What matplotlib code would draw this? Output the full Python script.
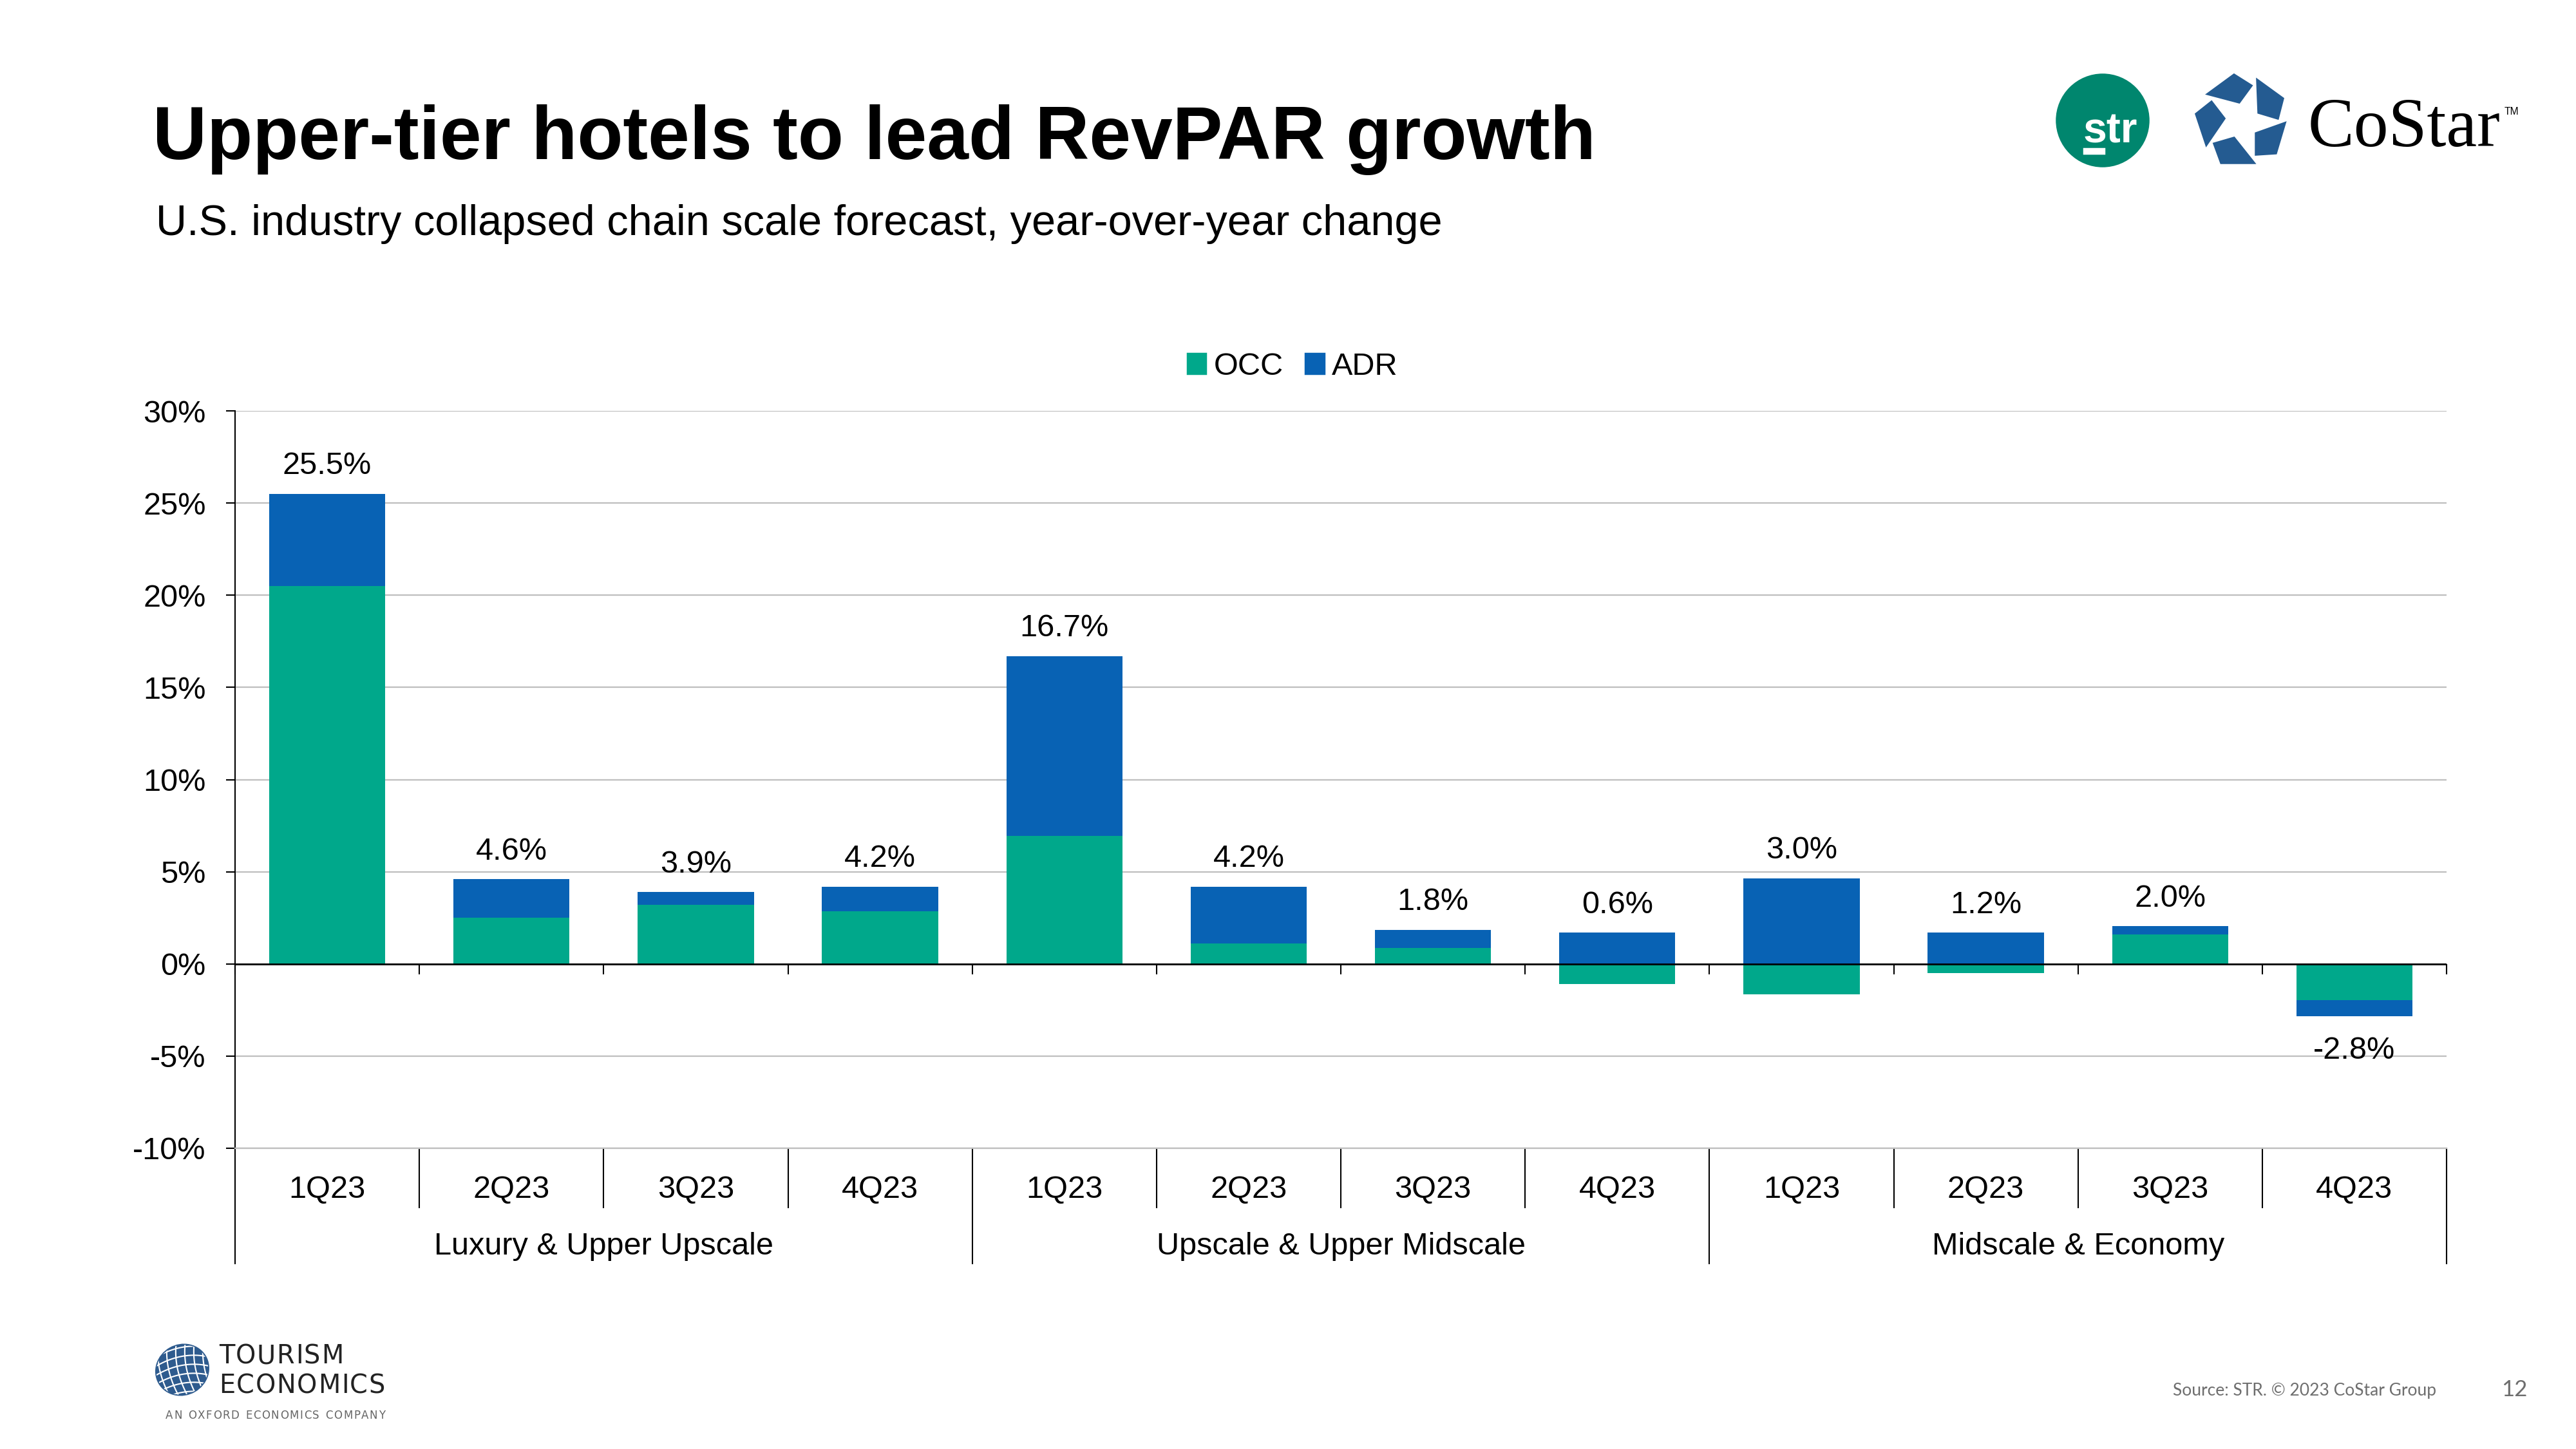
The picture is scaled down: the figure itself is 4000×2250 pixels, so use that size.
import numpy as np
import matplotlib.pyplot as plt
import matplotlib.transforms as mtrans
from matplotlib.patches import Patch, Polygon, Ellipse, Circle, Rectangle

plt.rcParams['font.family'] = ['Liberation Sans', 'DejaVu Sans']

# data (% year-over-year)
quarters = ['1Q23', '2Q23', '3Q23', '4Q23'] * 3
groups = ['Luxury & Upper Upscale', 'Upscale & Upper Midscale', 'Midscale & Economy']
occ = np.array([20.5, 2.5, 3.2, 2.85, 6.95, 1.1, 0.85, -1.1, -1.65, -0.5, 1.6, -1.95])
adr = np.array([5.0, 2.1, 0.7, 1.35, 9.75, 3.1, 1.0, 1.7, 4.65, 1.7, 0.45, -0.9])
revpar = [25.5, 4.6, 3.9, 4.2, 16.7, 4.2, 1.8, 0.6, 3.0, 1.2, 2.0, -2.8]

OCC_C = '#00A88B'
ADR_C = '#0862B4'

fig = plt.figure(figsize=(16, 9), dpi=250)
ax = fig.add_axes([365 / 4000, 1 - 1783 / 2250, (3799 - 365) / 4000, (1783 - 638) / 2250])

x = np.arange(len(quarters))
# excel-style stacking: positives and negatives stack separately
adr_bottom = np.where(np.sign(adr) == np.sign(occ), occ, 0)
ax.bar(x, occ, 0.63, color=OCC_C, zorder=2)
ax.bar(x, adr, 0.63, bottom=adr_bottom, color=ADR_C, zorder=2)

ax.set_xlim(-0.5, 11.5)
ax.set_ylim(-10, 30)
ax.set_yticks(np.arange(-10, 31, 5))
ax.yaxis.set_major_formatter(lambda v, p: f'{v:.0f}%')
ax.grid(axis='y', color='#BFBFBF', lw=0.65, zorder=0)
ax.set_axisbelow(True)
ax.axhline(0, color='black', lw=0.8, zorder=3)
for s in ['top', 'right']:
    ax.spines[s].set_visible(False)
ax.spines['bottom'].set_color('#BFBFBF')
ax.spines['bottom'].set_linewidth(0.65)
ax.spines['left'].set_linewidth(0.6)
ax.tick_params(axis='y', direction='out', length=4, width=0.6, pad=9, labelsize=14)
ax.tick_params(axis='x', bottom=False, labelbottom=False)

# data labels
pos_top = np.where(occ > 0, occ, 0) + np.where(adr > 0, adr, 0)
neg_bot = np.where(occ < 0, occ, 0) + np.where(adr < 0, adr, 0)
for i, v in enumerate(revpar):
    if v >= 0:
        ax.annotate(f'{v:.1f}%', (i, pos_top[i]), xytext=(0, 12.4), textcoords='offset points',
                    ha='center', va='center', fontsize=14)
    else:
        ax.annotate(f'{v:.1f}%', (i, neg_bot[i]), xytext=(0, -15.3), textcoords='offset points',
                    ha='center', va='center', fontsize=14)

# category axis: ticks on zero line, two-level labels below
bounds = np.arange(-0.5, 12, 1.0)
ax.vlines(bounds, 0, -0.56, color='black', lw=0.6, zorder=3, clip_on=False)
trans = mtrans.blended_transform_factory(ax.transData, ax.transAxes)
for b in bounds:
    depth = -0.156 if (b + 0.5) % 4 == 0 else -0.080
    ax.plot([b, b], [0, depth], transform=trans, color='black', lw=0.6, clip_on=False)
for i, q in enumerate(quarters):
    ax.text(i, -0.056, q, transform=trans, ha='center', va='center', fontsize=14)
for g, name in enumerate(groups):
    ax.text(g * 4 + 1.5, -0.1335, name, transform=trans, ha='center', va='center', fontsize=14)

handles = [Patch(color=OCC_C, label='OCC'), Patch(color=ADR_C, label='ADR')]
fig.legend(handles=handles, loc='center', bbox_to_anchor=(0.5018, 0.747), ncol=2, frameon=False,
           fontsize=14, handlelength=0.58, handleheight=0.58, handletextpad=0.25, columnspacing=0.72)

# page decorations in pixel coordinates
deco = fig.add_axes([0, 0, 1, 1], zorder=-1)
deco.set_xlim(0, 4000)
deco.set_ylim(2250, 0)
deco.axis('off')

deco.text(237, 247, 'Upper-tier hotels to lead RevPAR growth', fontsize=33.5, weight='bold', va='baseline')
deco.text(242, 365, 'U.S. industry collapsed chain scale forecast, year-over-year change',
          fontsize=19.2, va='baseline')

# str logo
deco.add_patch(Circle((3265, 187), 71, color='#00866E'))
deco.text(3277, 222, 'str', color='white', fontsize=19, weight='bold', ha='center', va='baseline')
deco.add_patch(Rectangle((3236, 231), 31, 7, color='white'))

# CoStar logo
star = [
    [(3428, 146), (3469, 116), (3496, 133), (3477, 159)],
    [(3505, 124), (3545, 153), (3537, 184), (3507, 175)],
    [(3548, 191), (3534, 238), (3503, 240), (3503, 207)],
    [(3438, 223), (3469, 214), (3500, 253), (3449, 253)],
    [(3410, 177), (3434, 158), (3454, 184), (3426, 225)],
]
for pts in star:
    deco.add_patch(Polygon(pts, closed=True, color='#245B91'))
deco.text(3584, 227, 'CoStar', fontsize=31, family=['Liberation Serif', 'DejaVu Serif'], va='baseline')
deco.text(3889, 178, 'TM', fontsize=4.5, va='baseline')

# Tourism Economics logo
globe = Ellipse((283, 2127), 82, 76, angle=-30, color='#2E5B8E')
deco.add_patch(globe)
tt = np.linspace(-1, 1, 50)
for k in np.linspace(-35, 35, 6):
    l1, = deco.plot(283 + 45 * tt, 2127 + k + 10 * tt ** 2 - 8 * tt, color='white', lw=0.6)
    l1.set_clip_path(globe)
    l2, = deco.plot(283 + k + 8 * tt ** 2 + 10 * tt, 2127 + 45 * tt, color='white', lw=0.6)
    l2.set_clip_path(globe)

renderer = fig.canvas.get_renderer()


def tracked(xa, xb, y, s, **kw):
    # letters laid out one by one with even extra spacing so the word fills xa..xb
    arts = [deco.text(0, y, ch, va='baseline', **kw) for ch in s]
    widths = []
    for a, ch in zip(arts, s):
        if ch == ' ':
            a.set_text('n')
            widths.append(a.get_window_extent(renderer).width * 0.6)
            a.set_text('')
        else:
            widths.append(a.get_window_extent(renderer).width)
    track = (xb - xa - sum(widths)) / (len(s) - 1)
    pos = xa
    for a, w in zip(arts, widths):
        a.set_x(pos)
        pos += w + track


te_font = ['Liberation Sans Narrow', 'DejaVu Sans']
tracked(340, 533, 2117, 'TOURISM', fontsize=11.5, family=te_font, color='#222222')
tracked(340, 598, 2163, 'ECONOMICS', fontsize=11.5, family=te_font, color='#222222')
tracked(257, 598, 2203, 'AN OXFORD ECONOMICS COMPANY', fontsize=4.8, family=te_font, color='#666666')

deco.text(3374, 2167, 'Source: STR. \u00a9 2023 CoStar Group', fontsize=7.6, family=['Lato', 'DejaVu Sans'],
          color='#6E6E6E', va='baseline')
deco.text(3884, 2168, '12', fontsize=10, family=['Lato', 'DejaVu Sans'], color='#6E6E6E', va='baseline')

fig.savefig('out.png', dpi=250)
